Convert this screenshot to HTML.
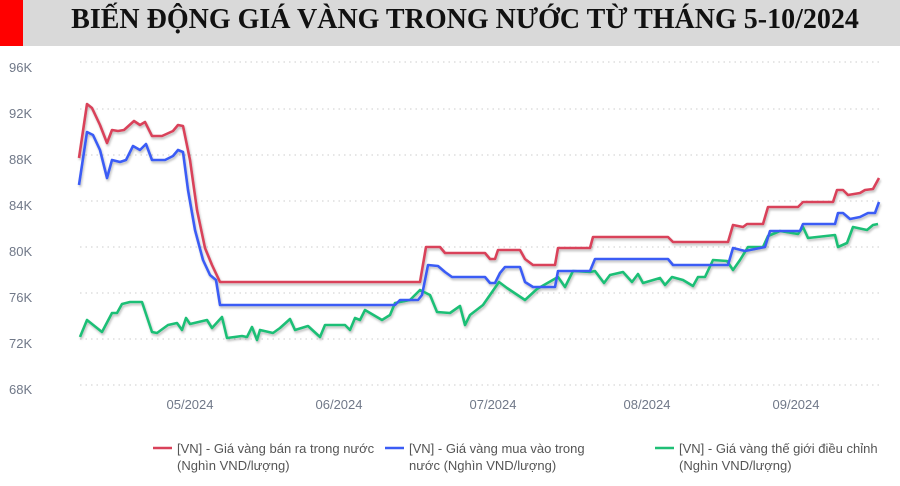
<!DOCTYPE html>
<html><head><meta charset="utf-8"><style>
body{margin:0;width:900px;height:486px;background:#fff;overflow:hidden;font-family:"Liberation Sans",sans-serif}
.t{position:absolute;left:0;top:0;width:900px;height:46px;background:#d9d9d9}
.r{position:absolute;left:0;top:0;width:23px;height:46px;background:#ff0000}
.tt{position:absolute;left:30px;right:0;top:4px;text-align:center;font:bold 28px "Liberation Serif",serif;color:#111;white-space:nowrap}
</style></head><body>
<div class="t"></div><div class="r"></div>
<div class="tt">BIẾN ĐỘNG GIÁ VÀNG TRONG NƯỚC TỪ THÁNG 5-10/2024</div>
<svg width="900" height="486" style="position:absolute;left:0;top:0">
<defs><filter id="s" x="-5%" y="-5%" width="110%" height="110%"><feDropShadow dx="1" dy="2" stdDeviation="1" flood-color="#000" flood-opacity="0.25"/></filter></defs>
<g stroke="#ccc" stroke-dasharray="1.5 4" stroke-width="1">
<line x1="80" x2="880" y1="62" y2="62"/><line x1="80" x2="880" y1="109" y2="109"/><line x1="80" x2="880" y1="155" y2="155"/><line x1="80" x2="880" y1="201" y2="201"/><line x1="80" x2="880" y1="247" y2="247"/><line x1="80" x2="880" y1="293" y2="293"/><line x1="80" x2="880" y1="339" y2="339"/><line x1="80" x2="880" y1="385" y2="385"/>
</g>
<g font-size="13" fill="#707888">
<text x="9" y="72">96K</text><text x="9" y="118">92K</text><text x="9" y="164">88K</text><text x="9" y="210">84K</text><text x="9" y="256">80K</text><text x="9" y="302">76K</text><text x="9" y="348">72K</text><text x="9" y="394">68K</text>
<g text-anchor="middle"><text x="190" y="409">05/2024</text><text x="339" y="409">06/2024</text><text x="493" y="409">07/2024</text><text x="647" y="409">08/2024</text><text x="796" y="409">09/2024</text></g>
</g>
<g fill="none" stroke-width="2.6" stroke-linejoin="round" filter="url(#s)">
<polyline stroke="#1fbf76" points="80,337 87,320 102,332 112,313 117,313 122,304 130,302 142,302 152,332 157,333 168,325 177,323 182,330 186,318 190,324 207,320 212,328 222,317 227,338 242,336 247,337 252,327 257,340 260,330 273,333 280,328 290,319 295,330 308,326 320,337 325,325 345,325 350,330 355,318 360,320 365,310 382,320 390,315 395,303 410,300 420,290 430,295 437,312 450,313 460,306 465,325 470,315 483,305 499,282 507,288 525,300 537,289 558,277 565,287 573,271 590,272 595,271 604,283 610,275 623,272 632,282 638,274 643,283 660,278 665,285 672,277 683,280 693,286 698,277 705,277 713,260 727,261 733,270 740,260 748,247 763,247 768,236 780,231 798,234 803,227 808,238 817,237 835,235 838,247 847,243 853,227 867,230 873,225 878,224"/>
<polyline stroke="#3b5cf5" points="79,185 87,132 93,135 100,150 107,178 112,160 120,162 126,160 133,146 140,150 146,144 152,160 165,160 173,156 178,150 183,152 188,190 195,230 203,260 210,275 216,280 220,305 395,305 400,300 418,300 422,295 428,265 438,266 445,272 452,277 485,277 490,283 495,283 500,273 505,267 520,267 525,282 533,287 555,287 558,271 590,271 595,259 668,259 673,265 728,265 733,248 745,251 765,247 770,231 800,231 803,224 835,224 838,213 843,213 850,219 860,217 868,213 875,213 879,202"/>
<polyline stroke="#d9425a" points="79,158 87,104 92,108 100,125 107,143 112,130 118,131 124,130 134,121 140,125 145,122 152,136 162,136 173,131 178,125 183,126 190,160 197,210 205,248 212,265 220,282 420,282 426,247 440,247 445,253 485,253 490,259 495,259 498,250 520,250 525,259 533,265 555,265 558,248 590,248 593,237 668,237 673,242 728,242 733,225 743,227 747,224 763,224 768,207 798,207 803,202 833,202 837,190 843,190 848,195 860,193 865,190 873,189 879,178"/>
</g>
<g stroke-width="2.6"><line x1="153" x2="172" y1="448" y2="448" stroke="#d9425a"/><line x1="385" x2="404" y1="448" y2="448" stroke="#3b5cf5"/><line x1="655" x2="674" y1="448" y2="448" stroke="#1fbf76"/></g>
<g font-size="13" fill="#555">
<text x="177" y="453">[VN] - Giá vàng bán ra trong nước</text><text x="177" y="470">(Nghìn VND/lượng)</text>
<text x="409" y="453">[VN] - Giá vàng mua vào trong</text><text x="409" y="470">nước (Nghìn VND/lượng)</text>
<text x="679" y="453">[VN] - Giá vàng thế giới điều chỉnh</text><text x="679" y="470">(Nghìn VND/lượng)</text>
</g>
</svg>
</body></html>
